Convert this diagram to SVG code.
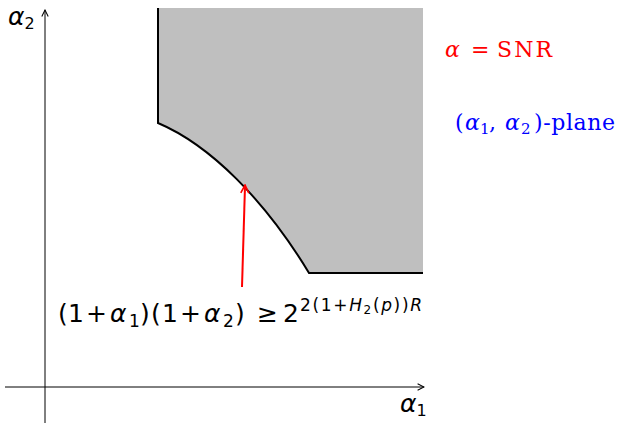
<svg xmlns="http://www.w3.org/2000/svg" width="620" height="424" viewBox="0 0 620 424">
<style>
.ax{stroke:#000;stroke-width:1;fill:none}
.bd{stroke:#000;stroke-width:2;fill:none}
.m{font-family:"DejaVu Sans","Liberation Sans",sans-serif;fill:#000;font-size:25px}
.sb{font-size:17px}
.i{font-style:italic}
.s{font-family:"DejaVu Serif","Liberation Serif",serif;font-size:22px}
</style>
<defs>
<marker id="ah" viewBox="0 0 10 10" refX="9" refY="5" markerWidth="8" markerHeight="8" orient="auto" markerUnits="userSpaceOnUse"><path d="M1,1 L9,5 L1,9" fill="none" stroke="#000" stroke-width="1.3"/></marker>
<marker id="rh" viewBox="0 0 10 10" refX="8" refY="5" markerWidth="10" markerHeight="10" orient="auto" markerUnits="userSpaceOnUse"><path d="M1,1 L9,5 L1,9" fill="none" stroke="#f00" stroke-width="1.6"/></marker>
</defs>
<g id="region">
<path d="M158,8 L158,123 C210,145 265,200 309,273 L423,273 L423,8 Z" fill="#bfbfbf"/>
<path class="bd" d="M158,8 L158,123 C210,145 265,200 309,273 L423,273"/>
</g>
<g id="connectors">
<line class="ax" x1="45" y1="423" x2="45" y2="10" marker-end="url(#ah)"/>
<line class="ax" x1="5" y1="387" x2="424" y2="387" marker-end="url(#ah)"/>
<line x1="242" y1="287" x2="245" y2="186" stroke="#f00" stroke-width="2" marker-end="url(#rh)"/>
</g>
<g id="labels">
<text class="m" x="8" y="25" font-size="22" font-style="italic">α<tspan font-size="16" font-style="normal" dy="4">2</tspan></text>
<text class="m" x="400" y="412" font-size="22" font-style="italic">α<tspan font-size="16" font-style="normal" dy="4">1</tspan></text>
<g id="formula" class="m">
<text x="58" y="322">(</text>
<text x="68" y="322">1</text>
<text x="86" y="322">+</text>
<text x="110" y="322" class="i">α</text>
<text x="129" y="327" class="sb">1</text>
<text x="140" y="322">)</text>
<text x="151" y="322">(</text>
<text x="162" y="322">1</text>
<text x="180" y="322">+</text>
<text x="204" y="322" class="i">α</text>
<text x="223" y="327" class="sb">2</text>
<text x="235" y="322">)</text>
<text x="257" y="322">≥</text>
<text x="283" y="322">2</text>
<text x="300" y="311" class="sb" textLength="122" lengthAdjust="spacing">2(1+<tspan class="i">H</tspan><tspan font-size="12" dy="3">2</tspan><tspan dy="-3">(</tspan><tspan class="i">p</tspan>))<tspan class="i">R</tspan></text>
</g>
<g id="snr" class="s" fill="#f00">
<text x="445" y="57" class="i">α</text>
<text x="471" y="57">=</text>
<text x="497" y="57" textLength="55" lengthAdjust="spacing">SNR</text>
</g>
<g id="plane" class="s" fill="#00f">
<text x="455" y="130">(</text>
<text x="465" y="130" class="i">α</text>
<text x="480" y="134" font-size="15">1</text>
<text x="489" y="130">,</text>
<text x="505" y="130" class="i">α</text>
<text x="521" y="134" font-size="15">2</text>
<text x="534" y="130" textLength="81" lengthAdjust="spacing">)-plane</text>
</g>
</g>
</svg>
